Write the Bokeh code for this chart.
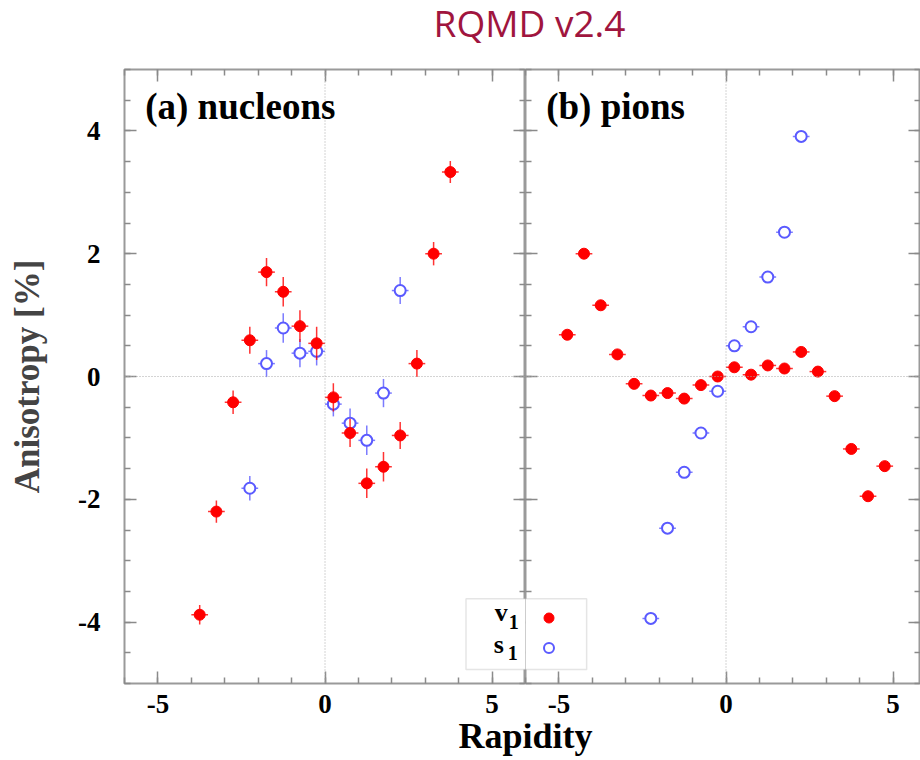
from bokeh.plotting import figure
from bokeh.models import (LinearAxis, SingleIntervalTicker, Span, Label, BoxAnnotation,
                          Legend, LegendItem, Range1d, ColumnDataSource)
from bokeh.layouts import column, row
from bokeh.embed import file_html
from bokeh.resources import INLINE
from bokeh.core.validation import silence
from bokeh.core.validation.warnings import MISSING_RENDERERS

silence(MISSING_RENDERERS, True)

# ---------------- data ----------------
title_text = "RQMD v2.4"
x_label = "Rapidity"
y_label = "Anisotropy [%]"
panel_names = ["(a) nucleons", "(b) pions"]
series_names = ["v", "s"]

x_tick_values = [-5, 0, 5]
x_tick_labels = ["-5", "0", "5"]
y_tick_values = [-4, -2, 0, 2, 4]
y_tick_labels = ["-4", "-2", "0", "2", "4"]

bin_half_width = 0.25

nuc_v1_x = [-3.75, -3.25, -2.75, -2.25, -1.75, -1.25, -0.75, -0.25,
            0.25, 0.75, 1.25, 1.75, 2.25, 2.75, 3.25, 3.75]
nuc_v1_y = [-3.88, -2.20, -0.42, 0.59, 1.70, 1.38, 0.82, 0.54,
            -0.34, -0.92, -1.74, -1.47, -0.96, 0.21, 2.00, 3.33]
nuc_v1_err = [0.16, 0.18, 0.19, 0.22, 0.23, 0.24, 0.26, 0.27,
              0.23, 0.23, 0.24, 0.24, 0.22, 0.22, 0.19, 0.18]

nuc_s1_x = [-2.25, -1.75, -1.25, -0.75, -0.25, 0.25, 0.75, 1.25, 1.75, 2.25]
nuc_s1_y = [-1.82, 0.21, 0.79, 0.38, 0.41, -0.45, -0.76, -1.04, -0.27, 1.40]
nuc_s1_err = [0.20, 0.22, 0.24, 0.23, 0.23, 0.20, 0.24, 0.24, 0.23, 0.22]

pi_v1_x = [-4.75, -4.25, -3.75, -3.25, -2.75, -2.25, -1.75, -1.25, -0.75, -0.25,
           0.25, 0.75, 1.25, 1.75, 2.25, 2.75, 3.25, 3.75, 4.25, 4.75]
pi_v1_y = [0.68, 2.00, 1.16, 0.36, -0.12, -0.31, -0.27, -0.36, -0.14, 0.00,
           0.15, 0.03, 0.18, 0.13, 0.40, 0.08, -0.32, -1.18, -1.95, -1.46]
pi_v1_err = [0.06, 0.06, 0.05, 0.05, 0.05, 0.05, 0.05, 0.05, 0.05, 0.05,
             0.05, 0.05, 0.05, 0.05, 0.05, 0.05, 0.05, 0.05, 0.06, 0.06]

pi_s1_x = [-2.25, -1.75, -1.25, -0.75, -0.25, 0.25, 0.75, 1.25, 1.75, 2.25]
pi_s1_y = [-3.94, -2.47, -1.56, -0.92, -0.24, 0.50, 0.81, 1.62, 2.35, 3.91]
pi_s1_err = [0.07, 0.06, 0.06, 0.05, 0.05, 0.05, 0.05, 0.06, 0.06, 0.07]

# ---------------- style ----------------
RED = "#ff0000"
BLUE = "#5a5aff"
FRAME_GRAY = "#9a9a9a"
TICK_GRAY = "#8a8a8a"
SERIF = "Liberation Serif"

FRAME_H = 614
LEFT_FRAME_W = 401
RIGHT_FRAME_W = 395
TOP_H = 60
PANEL_BOTTOM = 40
BOTTOM_H = 760 - TOP_H - 9 - FRAME_H - PANEL_BOTTOM


def make_source(xs, ys, es):
    return ColumnDataSource(dict(
        x=xs, y=ys,
        ylo=[y - e for y, e in zip(ys, es)],
        yhi=[y + e for y, e in zip(ys, es)],
        xlo=[x - bin_half_width for x in xs],
        xhi=[x + bin_half_width for x in xs],
    ))


def style_axis(ax, ticker, values, labels, show):
    ax.ticker = ticker
    ax.axis_line_color = None
    ax.major_tick_in = 12
    ax.major_tick_out = 0
    ax.minor_tick_in = 6
    ax.minor_tick_out = 0
    ax.major_tick_line_color = TICK_GRAY
    ax.minor_tick_line_color = TICK_GRAY
    ax.major_tick_line_width = 1.5
    ax.minor_tick_line_width = 1.5
    if show:
        ax.major_label_overrides = {v: l for v, l in zip(values, labels)}
        ax.major_label_text_font = SERIF
        ax.major_label_text_font_style = "bold"
        ax.major_label_text_font_size = "27px"
        ax.major_label_text_color = "black"
    else:
        ax.major_label_text_color = None
        ax.major_label_text_font_size = "1px"
        ax.major_label_standoff = 0


def make_panel(frame_w, x_end, is_left, name):
    p = figure(frame_width=frame_w, frame_height=FRAME_H, title=None,
               x_range=Range1d(-6, x_end), y_range=Range1d(-5, 5),
               output_backend="svg", toolbar_location=None,
               x_axis_location=None, y_axis_location=None,
               min_border_left=124 if is_left else 0, min_border_right=0,
               min_border_top=9, min_border_bottom=PANEL_BOTTOM)
    p.grid.visible = False
    p.outline_line_color = FRAME_GRAY
    p.outline_line_width = 2
    p.background_fill_color = "white"
    p.border_fill_color = "white"

    def xt():
        return SingleIntervalTicker(interval=5, num_minor_ticks=5)

    def yt():
        return SingleIntervalTicker(interval=2, num_minor_ticks=4)

    bottom = LinearAxis()
    style_axis(bottom, xt(), x_tick_values, x_tick_labels, True)
    bottom.major_label_standoff = 11
    p.add_layout(bottom, "below")

    top = LinearAxis()
    style_axis(top, xt(), x_tick_values, x_tick_labels, False)
    p.add_layout(top, "above")

    left = LinearAxis()
    style_axis(left, yt(), y_tick_values, y_tick_labels, is_left)
    if is_left:
        left.major_label_standoff = 24
        left.axis_label = y_label
        left.axis_label_text_font = SERIF
        left.axis_label_text_font_style = "bold"
        left.axis_label_text_font_size = "35px"
        left.axis_label_standoff = 28
    p.add_layout(left, "left")

    right = LinearAxis()
    style_axis(right, yt(), y_tick_values, y_tick_labels, False)
    p.add_layout(right, "right")

    p.add_layout(Span(location=0, dimension="height", line_color="#a8a8a8",
                      line_width=1, line_dash="1 2"))
    p.add_layout(Span(location=0, dimension="width", line_color="#a8a8a8",
                      line_width=1, line_dash="1 2"))

    p.add_layout(Label(x=-5.38, y=4.40, text=name, text_font=SERIF,
                       text_font_style="bold", text_font_size="37px",
                       text_color="black", text_baseline="middle"))
    return p


def draw_series(p, src, color, filled):
    p.segment(x0="x", y0="ylo", x1="x", y1="yhi", source=src,
              line_color=color, line_width=1.5, line_alpha=0.8)
    p.segment(x0="xlo", y0="y", x1="xhi", y1="y", source=src,
              line_color=color, line_width=1.5, line_alpha=0.8)
    if filled:
        return p.scatter("x", "y", source=src, size=11, marker="circle",
                         fill_color=color, line_color=color)
    return p.scatter("x", "y", source=src, size=11, marker="circle",
                     fill_color="white", line_color=color, line_width=2)


# ---------------- panels ----------------
left_p = make_panel(LEFT_FRAME_W, 6, True, panel_names[0])
draw_series(left_p, make_source(nuc_s1_x, nuc_s1_y, nuc_s1_err), BLUE, False)
draw_series(left_p, make_source(nuc_v1_x, nuc_v1_y, nuc_v1_err), RED, True)

right_p = make_panel(RIGHT_FRAME_W, -6 + RIGHT_FRAME_W * 12.0 / LEFT_FRAME_W,
                     False, panel_names[1])
r_s1 = draw_series(right_p, make_source(pi_s1_x, pi_s1_y, pi_s1_err), BLUE, False)
r_v1 = draw_series(right_p, make_source(pi_v1_x, pi_v1_y, pi_v1_err), RED, True)

# ---------------- legend (spans both panels) ----------------
box_kw = dict(top=-3.62, bottom=-4.77, fill_color="white", fill_alpha=1.0,
              line_color="#a8a8a8", line_width=1.5)
left_p.add_layout(BoxAnnotation(left=4.22, right=6.6, **box_kw))
right_p.add_layout(BoxAnnotation(left=-6.6, right=-4.17, **box_kw))

leg_font = dict(text_font=SERIF, text_font_style="bold", text_color="black",
                text_baseline="middle")
left_p.add_layout(Label(x=5.08, y=-3.85, text=series_names[0], text_font_size="26px", **leg_font))
left_p.add_layout(Label(x=5.50, y=-4.00, text="1", text_font_size="20px", **leg_font))
left_p.add_layout(Label(x=5.05, y=-4.365, text=series_names[1], text_font_size="26px", **leg_font))
left_p.add_layout(Label(x=5.47, y=-4.50, text="1", text_font_size="20px", **leg_font))

legend = Legend(items=[LegendItem(label=" ", renderers=[r_v1]),
                       LegendItem(label=" ", renderers=[r_s1])],
                location=(11, 23), padding=0, margin=0, spacing=5,
                glyph_width=25, glyph_height=25, label_text_font_size="1px",
                label_text_color=None,
                label_standoff=0, border_line_alpha=0, background_fill_alpha=0)
right_p.add_layout(legend, "center")

# ---------------- title and shared x label ----------------
def strip(h):
    s = figure(width=920, height=h, title=None,
               x_range=Range1d(0, 920), y_range=Range1d(h, 0),
               output_backend="svg", toolbar_location=None,
               x_axis_location=None, y_axis_location=None, min_border=0)
    s.grid.visible = False
    s.outline_line_color = None
    return s

top_strip = strip(TOP_H)
top_strip.add_layout(Label(x=529, y=22, text=title_text, text_align="center",
                           text_baseline="middle", text_font="Open Sans",
                           text_font_size="37px", text_color="#a0153e"))

bottom_strip = strip(BOTTOM_H)
bottom_strip.add_layout(Label(x=525, y=12, text=x_label, text_align="center",
                              text_baseline="middle", text_font=SERIF,
                              text_font_style="bold", text_font_size="36px",
                              text_color="black"))

layout = column(top_strip, row(left_p, right_p), bottom_strip)

open("out.html", "w").write(file_html(layout, INLINE))
